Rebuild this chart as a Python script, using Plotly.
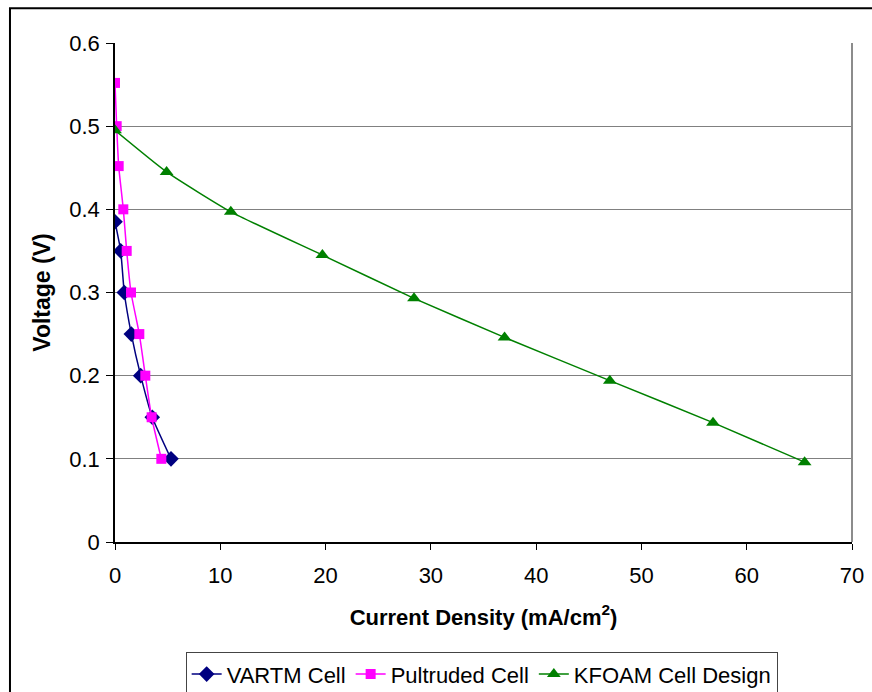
import plotly.graph_objects as go

# Polarization data: current density (mA/cm^2) vs cell voltage (V)
vartm_current = [0.0, 0.54, 0.88, 1.55, 2.44, 3.54, 5.32]
vartm_voltage = [0.385, 0.35, 0.30, 0.25, 0.20, 0.15, 0.10]

pultruded_current = [0.0, 0.16, 0.35, 0.79, 1.11, 1.52, 2.31, 2.88, 3.48, 4.40]
pultruded_voltage = [0.552, 0.50, 0.452, 0.40, 0.35, 0.30, 0.25, 0.20, 0.15, 0.10]

kfoam_current = [0.0, 4.9, 11.0, 19.7, 28.4, 37.0, 47.0, 56.8, 65.5]
kfoam_voltage = [0.495, 0.445, 0.397, 0.345, 0.293, 0.246, 0.194, 0.1435, 0.096]

x_ticks = [0, 10, 20, 30, 40, 50, 60, 70]
y_ticks = [0, 0.1, 0.2, 0.3, 0.4, 0.5, 0.6]

FONT = "Liberation Sans, Arial, sans-serif"

fig = go.Figure()
fig.add_trace(go.Scatter(
    x=vartm_current, y=vartm_voltage, name="VARTM Cell",
    mode="lines+markers", line=dict(color="#000080", width=1.5, shape="spline", smoothing=0.5),
    marker=dict(symbol="diamond", size=12, color="#000080"),
))
fig.add_trace(go.Scatter(
    x=pultruded_current, y=pultruded_voltage, name="Pultruded Cell",
    mode="lines+markers", line=dict(color="#FF00FF", width=1.5, shape="spline", smoothing=0.5),
    marker=dict(symbol="square", size=10, color="#FF00FF"),
))
fig.add_trace(go.Scatter(
    x=kfoam_current, y=kfoam_voltage, name="KFOAM Cell Design",
    mode="lines+markers", line=dict(color="#008000", width=1.5, shape="spline", smoothing=0.5),
    marker=dict(symbol="triangle-up", size=12, color="#008000"),
))

# Outer chart frame and grey plot-area edge on the right
shapes = [
    dict(type="rect", xref="paper", yref="paper", x0=-0.1425, x1=1.05, y0=-0.35, y1=1.0695,
         line=dict(color="black", width=2), fillcolor="rgba(0,0,0,0)", layer="below"),
    dict(type="line", xref="paper", yref="paper", x0=1, x1=1, y0=0, y1=1,
         line=dict(color="#8c8c8c", width=2)),
]

fig.update_layout(
    width=872, height=692,
    margin=dict(l=115, r=20, t=43, b=150, autoexpand=False),
    paper_bgcolor="white", plot_bgcolor="white",
    font=dict(family=FONT, color="black", size=22),
    showlegend=True,
    legend=dict(
        orientation="h", x=0.4975, xanchor="center", y=-0.221, yanchor="top",
        bordercolor="#444444", borderwidth=1, font=dict(size=22),
        itemwidth=30, tracegroupgap=0,
    ),
    shapes=shapes,
    xaxis=dict(
        range=[0, 70], tickvals=x_ticks, ticks="outside", ticklen=6, tickcolor="black",
        showline=True, linecolor="black", linewidth=1.5, showgrid=False, zeroline=False,
        tickfont=dict(size=22), ticklabelstandoff=7,
        title=dict(text="<b>Current Density (mA/cm<sup>2</sup>)</b>", font=dict(size=22), standoff=22),
    ),
    yaxis=dict(
        range=[0, 0.6], tickvals=y_ticks, ticktext=["0", "0.1", "0.2", "0.3", "0.4", "0.5", "0.6"],
        ticks="outside", ticklen=7, tickcolor="black",
        showline=True, linecolor="black", linewidth=1.5,
        showgrid=True, gridcolor="#808080", gridwidth=1, zeroline=False,
        tickfont=dict(size=22), ticklabelstandoff=2,
        title=dict(text="<b>Voltage (V)</b>", font=dict(size=23), standoff=12),
    ),
)

fig.write_html("out.html")
